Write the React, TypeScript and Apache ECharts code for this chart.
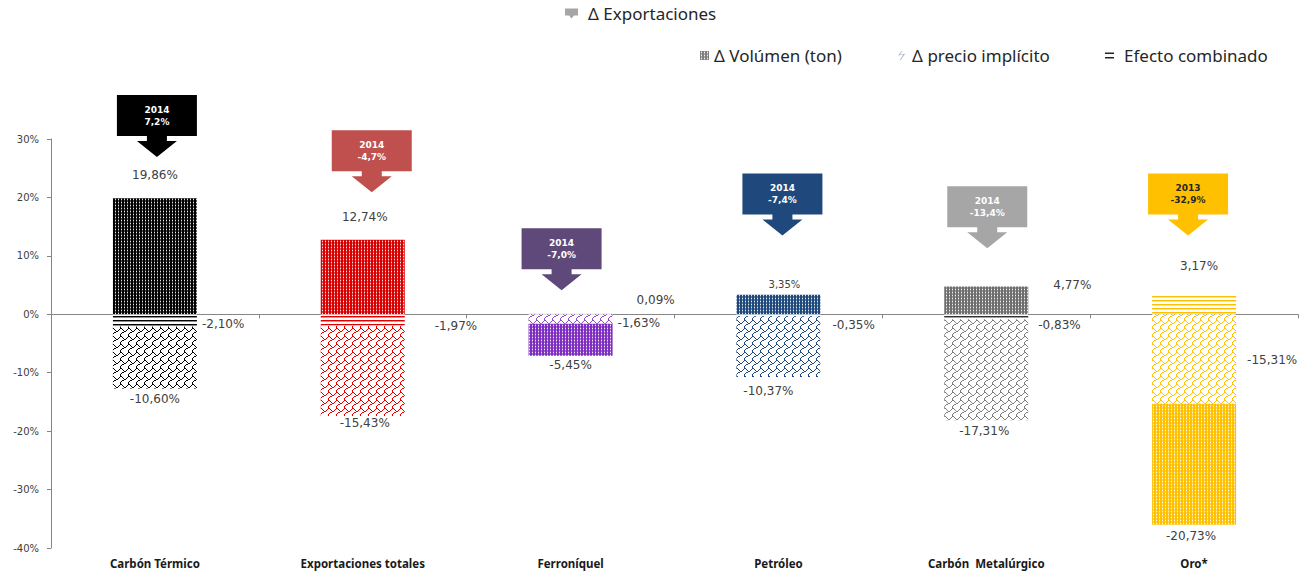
import React, { useEffect, useRef } from 'react';
import * as echarts from 'echarts';

// ---------- data ----------
const categories = ['Carbón Térmico', 'Exportaciones totales', 'Ferroníquel', 'Petróleo', 'Carbón  Metalúrgico', 'Oro*'];
const volumeValues = [19.86, 12.74, -5.45, 3.35, 4.77, -20.73];
const priceValues = [-10.6, -15.43, -1.63, -10.37, -17.31, -15.31];
const combinedValues = [-2.1, -1.97, 0.09, -0.35, -0.83, 3.17];
const exportYears = ['2014', '2014', '2014', '2014', '2014', '2013'];
const exportChanges = [7.2, -4.7, -7.0, -7.4, -13.4, -32.9];
const yMin = -40;
const yMax = 30;
const yStep = 10;

// ---------- styling / layout (not data) ----------
const calloutTip = [26.9, 20.9, 4.1, 13.5, 11.3, 13.5];
const calloutDx = [2, 9, -9, 4, 1, -6];
const boxColors = ['#000000', '#C0504D', '#5F497A', '#1F497D', '#A6A6A6', '#FFC000'];
const boxText = ['#ffffff', '#ffffff', '#ffffff', '#ffffff', '#ffffff', '#262626'];
const volColors = ['#000000', '#D80000', '#7F2FC0', '#1F497D', '#6E6E6E', '#FFC000'];
const priceColors = ['#000000', '#E00000', '#8E4CC8', '#1F497D', '#7F7F7F', '#FFC000'];
const combColors = ['#000000', '#E00000', '#8E4CC8', '#1F497D', '#303030', '#FFC000'];

type LP = [string, number, number];
const combinedLabel: LP[] = [['right', 0, 4], ['right', 25, 6], ['right', 19, -14], ['right', 7, 10], ['right', 5, 8], ['top', 5, -19]];
const priceLabel: LP[] = [['bottom', 0, 0], ['bottom', 2, -4], ['right', 0, 4], ['bottom', -10, 3], ['bottom', -2, 0], ['right', 6, 1]];
const volumeLabel: LP[] = [['top', 0, -12], ['top', 2, -12], ['bottom', 0, -2], ['top', 6, 0], ['right', 20, -15], ['bottom', -3, 0]];

function tile(w: number, h: number, draw: (ctx: CanvasRenderingContext2D) => void) {
  const c = document.createElement('canvas');
  c.width = w;
  c.height = h;
  const ctx = c.getContext('2d') as CanvasRenderingContext2D;
  draw(ctx);
  return { image: c.toDataURL(), repeat: 'repeat', imageWidth: w, imageHeight: h } as any;
}

function dotPattern(color: string) {
  return tile(3, 3, (ctx) => {
    ctx.fillStyle = color;
    ctx.fillRect(0, 0, 3, 3);
    ctx.fillStyle = 'rgba(255,255,255,0.3)';
    ctx.fillRect(1, 0, 1, 3);
    ctx.fillStyle = 'rgba(255,255,255,0.85)';
    ctx.fillRect(1, 1, 1, 1);
  });
}

// shingle pattern (mirrored), 8x8 tile
const SHINGLE: number[][] = [[0, 1], [2, 7], [3, 6], [4, 5], [2, 3], [1], [0], [0]];
function zigPattern(color: string) {
  return tile(8, 8, (ctx) => {
    ctx.fillStyle = '#ffffff';
    ctx.fillRect(0, 0, 8, 8);
    ctx.fillStyle = color;
    SHINGLE.forEach((xs, y) => xs.forEach((x) => ctx.fillRect(x, y, 1, 1)));
  });
}

function linePattern(color: string) {
  return tile(4, 4, (ctx) => {
    ctx.fillStyle = '#ffffff';
    ctx.fillRect(0, 0, 4, 4);
    ctx.fillStyle = color;
    ctx.fillRect(0, 0, 4, 1);
    ctx.globalAlpha = 0.45;
    ctx.fillRect(0, 1, 4, 1);
    ctx.globalAlpha = 1;
  });
}

const fmt = (v: number, d: number) => v.toFixed(d).replace('.', ',') + '%';

export default function App() {
  const ref = useRef<HTMLDivElement>(null);

  useEffect(() => {
    if (!ref.current) return;
    const chart = echarts.init(ref.current, null, { renderer: 'svg' });

    const labelFont = { fontFamily: 'DejaVu Sans', fontSize: 12, color: '#404040' };

    const mkData = (vals: number[], patterns: any[], lp: LP[], extra?: (i: number) => any) =>
      vals.map((v, i) => ({
        value: v,
        itemStyle: { color: patterns[i] },
        label: {
          show: true,
          position: lp[i][0],
          offset: [lp[i][1], lp[i][2]],
          distance: 5,
          formatter: () => fmt(v, 2),
          ...labelFont,
          ...(extra ? extra(i) : {}),
        },
      }));

    const combinedSeries = {
      name: 'Efecto combinado',
      type: 'bar',
      stack: 'total',
      barWidth: 84,
      xAxisIndex: 0,
      itemStyle: { color: '#404040' },
      data: mkData(combinedValues, combColors.map(linePattern), combinedLabel),
    };
    const priceSeries = {
      name: 'Δ precio implícito',
      type: 'bar',
      stack: 'total',
      barWidth: 84,
      xAxisIndex: 0,
      itemStyle: { color: '#A6B4C8' },
      data: mkData(priceValues, priceColors.map(zigPattern), priceLabel),
    };
    const volumeSeries = {
      name: 'Δ Volúmen (ton)',
      type: 'bar',
      stack: 'total',
      barWidth: 84,
      xAxisIndex: 0,
      itemStyle: { color: dotPattern('#808080') },
      data: mkData(volumeValues, volColors.map(dotPattern), volumeLabel, (i) => (i === 3 ? { fontSize: 10 } : {})),
    };

    const calloutSeries = {
      name: 'Δ Exportaciones',
      type: 'custom',
      xAxisIndex: 0,
      clip: false,
      silent: true,
      itemStyle: { color: '#A6A6A6' },
      data: categories.map((_, i) => [i, calloutTip[i]]),
      renderItem: (params: any, api: any) => {
        const i = params.dataIndex;
        const p = api.coord([api.value(0), api.value(1)]);
        const x = p[0] + calloutDx[i];
        const y = p[1];
        const W = 80;
        const H = 41;
        const b = y - 21;
        const points = [
          [x - W / 2, b - H], [x + W / 2, b - H], [x + W / 2, b], [x + 10, b], [x + 10, y - 16],
          [x + 20, y - 16], [x, y], [x - 20, y - 16], [x - 10, y - 16], [x - 10, b], [x - W / 2, b],
        ];
        return {
          type: 'group',
          children: [
            { type: 'polygon', shape: { points }, style: { fill: boxColors[i] } },
            {
              type: 'text',
              x,
              y: b - H / 2,
              style: {
                text: exportYears[i] + '\n' + fmt(exportChanges[i], 1),
                fill: boxText[i],
                fontFamily: 'DejaVu Sans',
                fontWeight: 'bold',
                fontSize: 9,
                lineHeight: 12,
                align: 'center',
                verticalAlign: 'middle',
              },
            },
          ],
        };
      },
    };

    const legendText = { fontFamily: 'Noto Sans', fontSize: 17, color: '#262626' };
    const mkLegend = (left: number, top: number, item: any, gap = 5) => ({
      left,
      top,
      padding: 0,
      selectedMode: false,
      itemWidth: 9,
      itemHeight: 9,
      textStyle: { ...legendText, padding: [0, 0, 0, gap - 5] },
      data: [item],
    });

    chart.setOption({
      animation: false,
      grid: { left: 51, right: 1, top: 139, bottom: 24, outerBoundsMode: 'none' } as any,
      legend: [
        {
          ...mkLegend(565, 5, {
            name: 'Δ Exportaciones',
            icon: 'path://M0,0 H13 V7 H9 L6.5,10 L4,7 H0 Z',
            itemStyle: { color: '#A6A6A6' },
          }, 10),
          itemWidth: 13,
          itemHeight: 10,
        },
        mkLegend(700, 47, { name: 'Δ Volúmen (ton)', icon: 'rect' }),
        mkLegend(898, 47, {
          name: 'Δ precio implícito',
          icon: 'path://M4,0 L0,5 L6,4 L2,10 L3,10 L8,3 L2,4 L5,0 Z',
          itemStyle: { color: '#A6B4C8' },
        }, 6),
        mkLegend(1105, 47, {
          name: 'Efecto combinado',
          icon: 'path://M0,0 H10 V1.6 H0 Z M0,5 H10 V6.6 H0 Z',
          itemStyle: { color: '#262626' },
        }, 10),
      ],
      xAxis: [
        {
          type: 'category',
          data: categories,
          position: 'bottom',
          axisLine: { show: false, onZero: false },
          axisTick: { show: false },
          axisLabel: {
            interval: 0,
            margin: 9,
            fontFamily: 'Noto Sans',
            fontWeight: 'bold',
            fontSize: 11.5,
            color: '#1a1a1a',
          },
          splitLine: { show: false },
        },
        {
          type: 'category',
          data: categories,
          position: 'bottom',
          axisLine: { show: true, onZero: true, lineStyle: { color: '#868686', width: 1 } },
          axisTick: { show: true, length: 4, lineStyle: { color: '#868686' } },
          axisLabel: { show: false },
          splitLine: { show: false },
        },
      ],
      yAxis: {
        type: 'value',
        min: yMin,
        max: yMax,
        interval: yStep,
        axisLine: { show: true, lineStyle: { color: '#868686', width: 1 } },
        axisTick: { show: true, length: 4, lineStyle: { color: '#868686' } },
        axisLabel: {
          formatter: '{value}%',
          margin: 12,
          fontFamily: 'DejaVu Sans',
          fontSize: 10,
          color: '#404040',
        },
        splitLine: { show: false },
      },
      series: [combinedSeries, priceSeries, volumeSeries, calloutSeries],
    } as any);

    return () => chart.dispose();
  }, []);

  return (
    <div
      ref={ref}
      style={{ position: 'fixed', left: 0, top: 0, width: 1299, height: 572, background: '#ffffff' }}
    />
  );
}
